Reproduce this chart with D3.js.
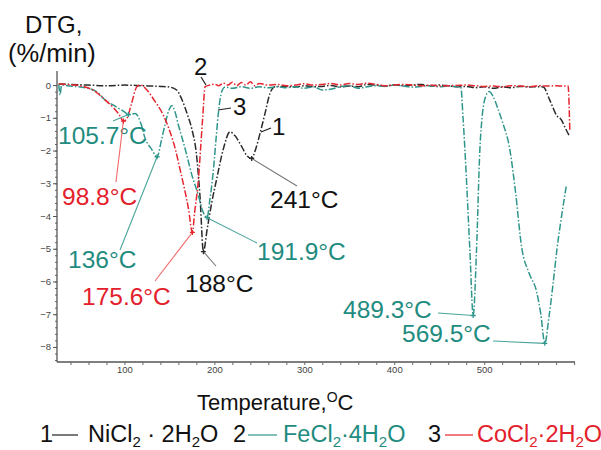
<!DOCTYPE html>
<html><head><meta charset="utf-8">
<script src="https://cdn.jsdelivr.net/npm/d3@7"></script>
<style>body{margin:0;background:#fff}svg{display:block;font-family:"Liberation Sans",Arial,sans-serif}</style>
</head><body><svg id="c" width="601" height="450"></svg>
<script>
// ---- data (temperature °C, DTG %/min) ----
const niT = [27,40,60,80,100,120,140,150,158,164,170,175,180,184,187.8,192,197,202.7,210,217.4,223,230.4,236,241.5,246,250.8,256,261.9,267.4,280,290,300,310,320,330,340,350,360,370,380,390,400,410,420,430,440,450,460,470,480,490,500,510,520,530,540,550,560,565.6,573,580.4,586,590,595.2];
const niV = [0.03,0.02,0.0,-0.02,0.0,-0.02,-0.04,-0.06,-0.15,-0.45,-0.9,-1.35,-2.1,-3.4,-5.09,-4.4,-3.6,-2.85,-1.95,-1.43,-1.55,-1.88,-2.15,-2.24,-1.95,-1.47,-0.9,-0.25,-0.05,-0.04,-0.06,-0.02,-0.05,-0.04,-0.01,-0.06,-0.03,-0.05,0.02,0.0,-0.03,0.01,-0.02,0.0,0.02,-0.03,0.0,-0.02,-0.05,-0.04,-0.08,-0.05,-0.1,-0.06,-0.08,-0.04,-0.06,-0.05,-0.06,-0.46,-0.92,-1.07,-1.3,-1.58];

const feT = [27,28.5,30,40,60,70,78.7,90,100,104.4,112,118,123,130,136.3,141,145,149,152.7,156,160,165,169.3,175,182,187,191.9,195,198.9,202,204.4,208.2,212,220,230,240,250,260,270,280,290,300,310,320,330,340,350,360,370,380,390,400,410,420,430,440,450,460,470,474,476.5,478.6,484.1,487.8,491.5,495.2,498,501,505.5,510,515,520,528.6,535,541.6,550,558.2,563,567.4,572,576.7,581,586,591.5];
const feV = [0.02,-0.3,0.0,-0.03,-0.1,-0.22,-0.46,-0.65,-0.82,-0.9,-0.87,-1.15,-1.63,-1.95,-2.19,-1.7,-1.22,-0.8,-0.63,-0.8,-1.22,-1.7,-2.14,-2.75,-3.35,-3.85,-4.05,-3.5,-2.6,-1.6,-0.86,-0.2,-0.06,-0.1,-0.05,-0.1,-0.05,-0.08,-0.05,-0.08,-0.05,-0.1,-0.05,-0.15,-0.12,-0.05,-0.02,-0.1,-0.05,-0.02,-0.04,0.0,-0.03,-0.06,-0.04,-0.02,-0.05,-0.03,-0.05,-0.05,-1.0,-1.98,-5.04,-7.04,-5.04,-1.98,-0.9,-0.4,-0.2,-0.35,-0.7,-1.1,-1.98,-3.3,-4.94,-5.75,-6.3,-7.0,-7.89,-7.1,-6.05,-5.0,-4.02,-3.05];

const coT = [27,35,45,55,65,78.7,88,94,98.8,102.7,108,113.8,118,125,134,141,149,157,162,167,171,175.6,178,182.2,185,187,189.7,195,200,205,210,215,220,225,230,235,240,245,250,260,270,280,290,300,310,320,330,340,350,360,370,380,390,400,410,420,430,440,450,460,470,480,490,500,510,520,530,540,550,560,570,580,588,593.3,595.2];
const coV = [0.04,0.02,0.0,-0.05,-0.15,-0.46,-0.7,-0.9,-1.1,-1.02,-0.55,-0.05,0.0,-0.15,-0.5,-0.8,-1.3,-2.0,-2.6,-3.2,-3.75,-4.5,-3.9,-2.9,-1.8,-1.0,-0.05,0.0,0.03,-0.02,0.06,0.0,0.09,-0.02,0.08,0.0,0.1,-0.02,0.05,0.0,0.02,-0.02,0.0,0.04,0.0,0.02,0.05,0.0,0.05,0.02,0.06,0.02,-0.02,0.0,0.02,0.0,-0.02,0.0,-0.03,-0.02,-0.01,0.0,-0.02,-0.04,-0.03,-0.05,-0.02,-0.03,-0.05,-0.02,-0.03,-0.02,-0.03,-0.02,-1.37];

const yTicks = [0,-1,-2,-3,-4,-5,-6,-7,-8];
const xTicks = [100,200,300,400,500];

const annText = ["105.7°C","98.8°C","136°C","175.6°C","188°C","191.9°C","241°C","489.3°C","569.5°C"];
const annT = [104.4,98.8,136.3,175.6,187.8,191.9,241.5,487.8,567.4];
const annV = [-0.9,-1.1,-2.19,-4.5,-5.09,-4.05,-2.24,-7.04,-7.89];
const annSeries = ["fe","co","fe","co","ni","fe","ni","fe","fe"];

// ---- layout ----
const colors = {ni:"#2b2b2b", fe:"#2f968b", co:"#e5262f"};
const textColors = {ni:"#111", fe:"#1f8c7f", co:"#e3202b"};
const leaderColors = {ni:"#777", fe:"#4aa49a", co:"#ef6a6a"};
const annPos = [[58,144],[62,205],[68,268],[82,305],[185,292],[257,260],[270,208],[343,318],[402,342]];
const annFrom = [[113,121],[116,182],[120,250],[155,281],[216,266],[257,243],[297,186],[438,313],[493,341]];

const svg = d3.select("#c");
const x = d3.scaleLinear().domain([25,601]).range([57,575]);
const y = d3.scaleLinear().domain([0.43,-8.46]).range([71,362]);

// axes
const gx = svg.append("g").attr("transform","translate(0,362)")
  .call(d3.axisBottom(x).tickValues(d3.range(40,601,20)).tickSize(3)
    .tickFormat(d => xTicks.includes(d) ? d : ""));
gx.select(".domain").attr("stroke","#555").attr("stroke-width",1.3).attr("d","M57,0H575");
gx.selectAll(".tick line").attr("stroke","#666");
gx.selectAll(".tick text").attr("fill","#444").attr("font-size",9.5).attr("y",4).attr("dy","0.71em")
  .attr("font-family","Liberation Sans, Arial, sans-serif");

const gyMinor = svg.append("g").attr("transform","translate(57,0)")
  .call(d3.axisLeft(y).tickValues(d3.range(0,-8.41,-0.2)).tickSize(2).tickFormat(""));
gyMinor.select(".domain").remove();
gyMinor.selectAll(".tick line").attr("stroke","#666");
const gy = svg.append("g").attr("transform","translate(57,0)")
  .call(d3.axisLeft(y).tickValues(yTicks).tickSize(4).tickFormat(d3.format("d")));
gy.select(".domain").attr("stroke","#555").attr("stroke-width",1.3).attr("d","M0,71V362");
gy.selectAll(".tick line").attr("stroke","#555");
gy.selectAll(".tick text").attr("fill","#444").attr("font-size",9.5).attr("x",-6)
  .attr("font-family","Liberation Sans, Arial, sans-serif");

// curves
const line = d3.line().x(d=>x(d[0])).y(d=>y(d[1])).curve(d3.curveMonotoneX);
const series = [
  {k:"ni", T:niT, V:niV},
  {k:"fe", T:feT, V:feV},
  {k:"co", T:coT, V:coV}
];
series.forEach(s=>{
  const pts = s.T.map((t,i)=>[t,s.V[i]]);
  svg.append("path").datum(pts).attr("d",line).attr("fill","none")
    .attr("stroke",colors[s.k]).attr("stroke-width",1.5)
    .attr("stroke-dasharray","7,2,1.5,2");
});

// annotations
annText.forEach((t,i)=>{
  const k = annSeries[i];
  const mx = x(annT[i]), my = y(annV[i]);
  svg.append("line").attr("x1",annFrom[i][0]).attr("y1",annFrom[i][1]).attr("x2",mx).attr("y2",my)
    .attr("stroke",leaderColors[k]).attr("stroke-width",1.1);
  svg.append("path").attr("d",`M${mx-2.5},${my}H${mx+2.5}M${mx},${my-2.5}V${my+2.5}`)
    .attr("stroke",colors[k]).attr("stroke-width",1.3);
  svg.append("text").attr("x",annPos[i][0]).attr("y",annPos[i][1])
    .attr("font-size",24.5).attr("fill",textColors[k]).text(t);
});

// curve number labels
const numLabels = [["2",194,75,[201,77],[206,85]],["3",233,115,[231,108],[218,110]],["1",272,135,[271,128],[261,132]]];
numLabels.forEach(n=>{
  svg.append("line").attr("x1",n[3][0]).attr("y1",n[3][1]).attr("x2",n[4][0]).attr("y2",n[4][1])
    .attr("stroke","#222").attr("stroke-width",1.2);
  svg.append("text").attr("x",n[1]).attr("y",n[2]).attr("font-size",24).attr("fill","#111").text(n[0]);
});

// y title
svg.append("text").attr("x",25).attr("y",33).attr("font-size",24).attr("fill","#111").text("DTG,");
svg.append("text").attr("x",8).attr("y",62).attr("font-size",25.5).attr("fill","#111").text("(%/min)");

// x title
const xt = svg.append("text").attr("x",197).attr("y",410).attr("font-size",22).attr("fill","#111");
xt.append("tspan").text("Temperature,");
xt.append("tspan").attr("font-size",14).attr("dy",-8).text("O");
xt.append("tspan").attr("dy",8).text("C");

// legend
const LF = 23.5;
function chem(g, xpos, parts, color){
  const t = g.append("text").attr("x",xpos).attr("y",442).attr("font-size",LF).attr("fill",color);
  parts.forEach(p=>{
    if (p[1]) t.append("tspan").attr("font-size",15).attr("dy",5).text(p[0]);
    else if (p[2]) t.append("tspan").attr("dy",-5).text(p[0]);
    else t.append("tspan").text(p[0]);
  });
  return t;
}
const lg = svg.append("g");
const legendItems = [
  {n:"1", x:40, l:[52,78], tx:88, color:"#111", lc:"#222", parts:[["NiCl"],["2",1],[" · 2H",0,1],["2",1],["O",0,1]]},
  {n:"2", x:233, l:[248,277], tx:283, color:"#1f8c7f", lc:"#2f968b", parts:[["FeCl"],["2",1],["·4H",0,1],["2",1],["O",0,1]]},
  {n:"3", x:428, l:[445,473], tx:477, color:"#e3202b", lc:"#e5262f", parts:[["CoCl"],["2",1],["·2H",0,1],["2",1],["O",0,1]]}
];
legendItems.forEach(it=>{
  lg.append("text").attr("x",it.x).attr("y",442).attr("font-size",LF).attr("fill","#111").text(it.n);
  lg.append("line").attr("x1",it.l[0]).attr("x2",it.l[1]).attr("y1",435).attr("y2",435)
    .attr("stroke",it.lc).attr("stroke-width",1.2);
  chem(lg, it.tx, it.parts, it.color);
});
</script></body></html>
